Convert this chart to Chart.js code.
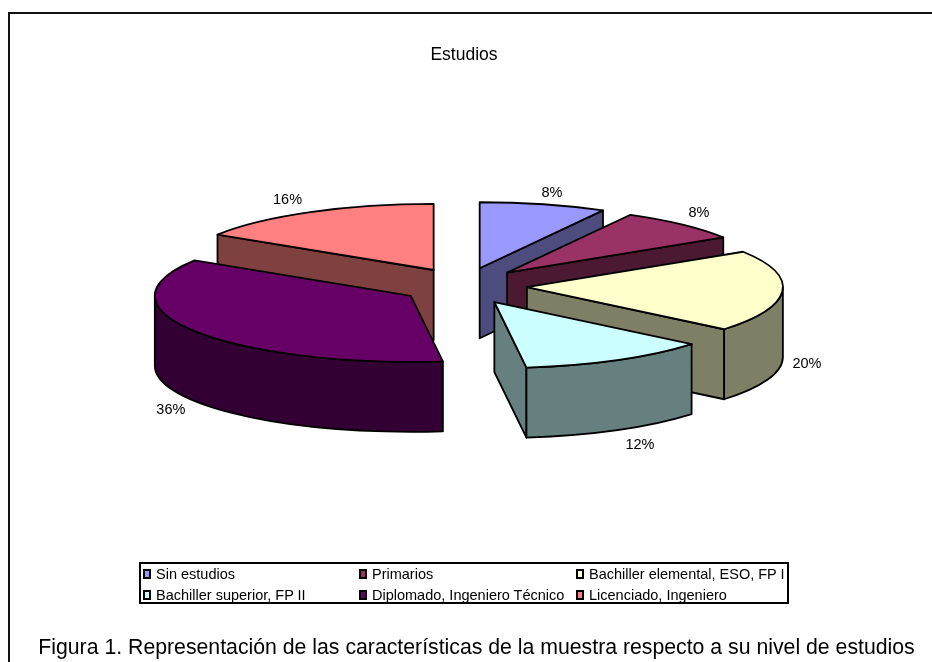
<!DOCTYPE html>
<html lang="es">
<head>
<meta charset="utf-8">
<title>Estudios</title>
<script src="https://cdn.jsdelivr.net/npm/chart.js@4/dist/chart.umd.min.js"></script>
<style>
  html, body { margin: 0; padding: 0; background: #fff; overflow: hidden; }
  body { width: 932px; height: 662px; position: relative; font-family: "Liberation Sans", Arial, sans-serif; color: #000; }
  #frame { position: absolute; left: 8px; top: 12px; right: -4px; bottom: -4px; border-top: 2px solid #111; border-left: 2px solid #111; }
  #chart { position: absolute; left: 0; top: 0; }
  #legend { position: absolute; left: 139px; top: 562px; width: 646px; height: 38px; border: 2px solid #000; overflow: hidden;
            display: grid; grid-template-columns: 216px 217px 213px; grid-auto-rows: 21px; font-size: 14.5px; line-height: 21px; }
  #legend .item { position: relative; padding-left: 15px; white-space: nowrap; }
  #legend .swatch { position: absolute; left: 2px; top: 5px; width: 4px; height: 6px; border: 2px solid #000; }
  #caption { position: absolute; left: 0; width: 953px; top: 635px; text-align: center; font-size: 21.25px; line-height: 24px; white-space: nowrap; }
</style>
</head>
<body>
<div id="frame"></div>
<canvas id="chart" width="932" height="662"></canvas>
<div id="legend"></div>
<div id="caption">Figura 1. Representación de las características de la muestra respecto a su nivel de estudios</div>
<script>
var titleText = 'Estudios';
var categories = ['Sin estudios', 'Primarios', 'Bachiller elemental, ESO, FP I', 'Bachiller superior, FP II', 'Diplomado, Ingeniero Técnico', 'Licenciado, Ingeniero'];
var percentages = [8, 8, 20, 12, 36, 16];
var sliceColors = ['#9999FF', '#993366', '#FFFFCC', '#CCFFFF', '#660066', '#FF8080'];

// Shape of the tilted pie
var TILT = 0.258;         // ellipse height / width of the top faces
var EXPLODE_TILT = 0.29;  // same ratio for the way slices move apart
var DEPTH = 70;           // wall height

// Half brightness for the walls
function darken(hex) {
  var n = parseInt(hex.slice(1), 16);
  return 'rgb(' + ((n >> 16 & 255) >> 1) + ',' + ((n >> 8 & 255) >> 1) + ',' + ((n & 255) >> 1) + ')';
}

function paintPath(ctx, fill) {
  ctx.closePath();
  ctx.fillStyle = fill;
  ctx.fill();
  ctx.stroke();
}

// Straight wall along a slice edge
function drawEdgeWall(ctx, apexX, apexY, rimX, rimY, fill) {
  ctx.beginPath();
  ctx.moveTo(apexX, apexY);
  ctx.lineTo(rimX, rimY);
  ctx.lineTo(rimX, rimY + DEPTH);
  ctx.lineTo(apexX, apexY + DEPTH);
  paintPath(ctx, fill);
}

// Replaces the flat arcs with extruded, exploded slices
var pie3dPlugin = {
  id: 'pie3d',
  beforeDatasetDraw: function (chart, args, opts) {
    var ctx = chart.ctx;
    var arcs = chart.getDatasetMeta(args.index).data;
    var values = chart.data.datasets[args.index].data;
    var total = values.reduce(function (a, b) { return a + b; }, 0);

    var slices = arcs.map(function (arc, i) {
      var p = arc.getProps(['x', 'y', 'startAngle', 'endAngle', 'outerRadius'], true);
      var mid = (p.startAngle + p.endAngle) / 2;
      return {
        index: i,
        start: p.startAngle,
        end: p.endAngle,
        mid: mid,
        rx: p.outerRadius,
        ry: p.outerRadius * TILT,
        x: p.x + Math.cos(mid) * arc.options.offset,
        y: p.y + Math.sin(mid) * arc.options.offset * EXPLODE_TILT,
        color: arc.options.backgroundColor
      };
    });

    // Far slices first so the nearer ones cover them
    var order = slices.slice().sort(function (a, b) { return Math.sin(a.mid) - Math.sin(b.mid); });

    ctx.save();
    ctx.strokeStyle = '#000';
    ctx.lineWidth = 1.8;
    ctx.lineJoin = 'round';
    order.forEach(function (s) {
      var side = darken(s.color);
      var startX = s.x + s.rx * Math.cos(s.start), startY = s.y + s.ry * Math.sin(s.start);
      var endX = s.x + s.rx * Math.cos(s.end), endY = s.y + s.ry * Math.sin(s.end);

      if (Math.cos(s.start) < -1e-6) drawEdgeWall(ctx, s.x, s.y, startX, startY, side);
      if (Math.cos(s.end) > 1e-6) drawEdgeWall(ctx, s.x, s.y, endX, endY, side);

      // Rim wall only on the near half of the ellipse
      var from = Math.max(s.start, 0), to = Math.min(s.end, Math.PI);
      if (to > from) {
        ctx.beginPath();
        ctx.ellipse(s.x, s.y, s.rx, s.ry, 0, from, to);
        ctx.ellipse(s.x, s.y + DEPTH, s.rx, s.ry, 0, to, from, true);
        paintPath(ctx, side);
      }

      ctx.beginPath();
      ctx.moveTo(s.x, s.y);
      ctx.ellipse(s.x, s.y, s.rx, s.ry, 0, s.start, s.end);
      paintPath(ctx, s.color);
    });

    // Percent labels outside the rim
    ctx.fillStyle = '#000';
    ctx.font = opts.font;
    ctx.textAlign = 'center';
    ctx.textBaseline = 'middle';
    slices.forEach(function (s) {
      var lx = s.x + s.rx * Math.cos(s.mid) + opts.nudgeX[s.index];
      var ly = s.y + s.ry * Math.sin(s.mid) + opts.nudgeY[s.index];
      if (Math.sin(s.mid) > 0) ly += DEPTH;
      ctx.fillText(Math.round(values[s.index] / total * 100) + '%', lx, ly);
    });
    ctx.restore();
    return false;
  }
};

var chart = new Chart(document.getElementById('chart'), {
  type: 'pie',
  data: {
    labels: categories,
    datasets: [{
      data: percentages,
      backgroundColor: sliceColors,
      offset: 63,
      radius: 256,
      borderWidth: 0
    }]
  },
  plugins: [pie3dPlugin],
  options: {
    responsive: false,
    animation: false,
    events: [],
    layout: { padding: { top: 0, right: 4, bottom: 156, left: 0 } },
    plugins: {
      legend: { display: false },
      tooltip: { enabled: false },
      title: {
        display: true,
        text: titleText,
        color: '#000',
        font: { family: '"Liberation Sans", Arial, sans-serif', size: 17.5, weight: 'normal', lineHeight: 1.2 },
        padding: { top: 45, bottom: 0 }
      },
      pie3d: {
        font: '14.5px "Liberation Sans", Arial, sans-serif',
        nudgeX: [8.6, 16.6, 24.6, 22.3, -23.8, -22.8],
        nudgeY: [-11, -12, 3, 15.5, 9, -12]
      }
    }
  }
});

// Legend box in three fixed columns
var legendBox = document.getElementById('legend');
chart.data.labels.forEach(function (label, i) {
  var item = document.createElement('div');
  item.className = 'item';
  var swatch = document.createElement('span');
  swatch.className = 'swatch';
  swatch.style.background = chart.data.datasets[0].backgroundColor[i];
  item.appendChild(swatch);
  item.appendChild(document.createTextNode(label));
  legendBox.appendChild(item);
});
</script>
</body>
</html>
